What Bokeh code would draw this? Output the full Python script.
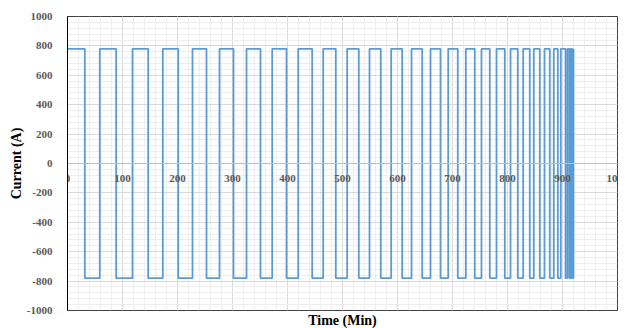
from bokeh.plotting import figure
from bokeh.models import Range1d, SingleIntervalTicker, Title, ColumnDataSource, PrintfTickFormatter
from bokeh.embed import file_html
from bokeh.resources import INLINE

# Switching instants (min) and current level held from each instant (A)
switch_time = [0, 31.5, 58.7, 88.5, 118.2, 146.7, 173.3, 201.3, 227.3, 252.7,
               276.4, 301.8, 325.5, 350.9, 372.2, 398.2, 419.5, 444.9, 464.9, 487.8,
               508.5, 529.6, 549.1, 569.6, 588.5, 608.5, 625.5, 644.9, 660.0, 678.2,
               692.2, 709.6, 724.2, 740.5, 752.7, 767.8, 780.0, 795.1, 805.5, 818.7,
               828.5, 840.5, 847.8, 858.7, 867.3, 876.9, 884.2, 891.5, 896.9, 905.5,
               909.0, 912.5, 915.0, 917.5, 920.0]
current = [780, -780, 780, -780, 780, -780, 780, -780, 780, -780,
           780, -780, 780, -780, 780, -780, 780, -780, 780, -780,
           780, -780, 780, -780, 780, -780, 780, -780, 780, -780,
           780, -780, 780, -780, 780, -780, 780, -780, 780, -780,
           780, -780, 780, -780, 780, -780, 780, -780, 780, -780,
           780, -780, 780, -780, 780]

x_title = "Time (Min)"
y_title = "Current (A)"

src = ColumnDataSource(dict(t=switch_time, i=current))

p = figure(width=628, height=328, output_backend="svg", toolbar_location=None,
           x_range=Range1d(0, 1000), y_range=Range1d(-1000, 1000),
           min_border_left=67, min_border_right=11, min_border_top=16,
           min_border_bottom=18, background_fill_color="white")

p.step(x="t", y="i", source=src, mode="after", line_color="#5b9bd5", line_width=1.8)

xt = SingleIntervalTicker(interval=100, num_minor_ticks=5)
yt = SingleIntervalTicker(interval=200, num_minor_ticks=5)

xa = p.xaxis[0]
xa.ticker = xt
xa.formatter = PrintfTickFormatter(format="%d")
xa.fixed_location = 0
xa.axis_line_color = "#bfbfbf"
xa.major_tick_line_color = None
xa.minor_tick_line_color = None
xa.major_label_text_font = "Liberation Serif"
xa.major_label_text_font_style = "bold"
xa.major_label_text_font_size = "11px"
xa.major_label_text_color = "#595959"
xa.major_label_standoff = 5

ya = p.yaxis[0]
ya.ticker = yt
ya.formatter = PrintfTickFormatter(format="%d")
ya.axis_line_color = "black"
ya.major_tick_line_color = None
ya.minor_tick_line_color = None
ya.major_label_text_font = "Liberation Serif"
ya.major_label_text_font_style = "bold"
ya.major_label_text_font_size = "11px"
ya.major_label_text_color = "#595959"
ya.major_label_standoff = 9
ya.axis_label = y_title
ya.axis_label_text_font = "Liberation Serif"
ya.axis_label_text_font_style = "bold"
ya.axis_label_text_font_size = "14px"
ya.axis_label_text_color = "black"
ya.axis_label_standoff = 0

p.xgrid.ticker = xt
p.ygrid.ticker = yt
for g in (p.xgrid[0], p.ygrid[0]):
    g.grid_line_color = "#d9d9d9"
    g.minor_grid_line_color = "#eeeeee"

p.outline_line_color = "#404040"
p.outline_line_width = 1

p.add_layout(Title(text=x_title, align="center", text_font="Liberation Serif",
                   text_font_style="bold", text_font_size="14px",
                   text_color="black", standoff=0, vertical_align="bottom"), "below")

open("out.html", "w").write(file_html(p, INLINE))
